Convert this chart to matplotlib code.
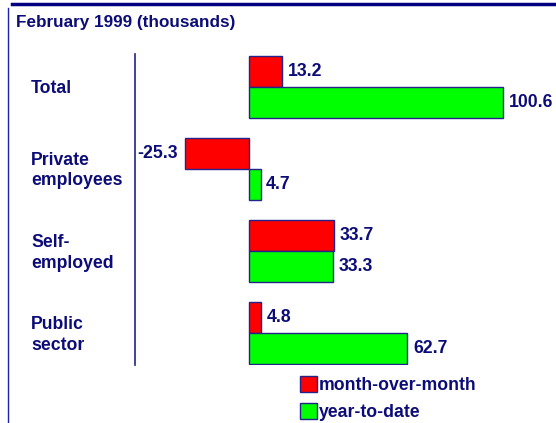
import matplotlib
matplotlib.use('Agg')
import matplotlib.pyplot as plt
from matplotlib.lines import Line2D
from matplotlib.patches import Patch
import numpy as np

categories = ['Total', 'Private\nemployees', 'Self-\nemployed', 'Public\nsector']
month_over_month = [13.2, -25.3, 33.7, 4.8]
year_to_date = [100.6, 4.7, 33.3, 62.7]
series_names = ['month-over-month', 'year-to-date']

navy = '#0c0c78'
edge = '#23238c'
red = '#ff0000'
green = '#00ff00'

plt.rcParams['font.family'] = ['Liberation Sans', 'DejaVu Sans']
plt.rcParams['font.weight'] = 'bold'

W, H = 556, 423
fig = plt.figure(figsize=(W / 100, H / 100), dpi=100)

# axes placed in pixel terms
ax = fig.add_axes([135 / W, 1 - 365 / H, (W - 135) / W, 311 / H])

y = np.arange(len(categories))
h = 0.38
ax.barh(y - h / 2, month_over_month, height=h, color=red, edgecolor=edge, linewidth=1)
ax.barh(y + h / 2, year_to_date, height=h, color=green, edgecolor=edge, linewidth=1)

ax.set_xlim(-45, 121.5)
ax.set_ylim(3 + 0.39, -0.40)

for i, v in enumerate(month_over_month):
    if v >= 0:
        ax.annotate(f'{v}', (v, i - h / 2), xytext=(4, 0), textcoords='offset points',
                    va='center', ha='left', fontsize=12.7, color=navy, fontweight='bold')
    else:
        ax.annotate(f'{v}', (v, i - h / 2), xytext=(-5, 0), textcoords='offset points',
                    va='center', ha='right', fontsize=12.7, color=navy, fontweight='bold')
for i, v in enumerate(year_to_date):
    ax.annotate(f'{v}', (v, i + h / 2), xytext=(4, 0), textcoords='offset points',
                va='center', ha='left', fontsize=12.7, color=navy, fontweight='bold')

# category labels, left aligned in figure space
trans = matplotlib.transforms.blended_transform_factory(fig.transFigure, ax.transData)
for i, c in enumerate(categories):
    ax.text(31 / W, i + 0.02, c, transform=trans, ha='left', va='center', fontsize=12.7,
            color=navy, fontweight='bold', linespacing=1.3, clip_on=False)

for s in ['top', 'right', 'bottom']:
    ax.spines[s].set_visible(False)
ax.spines['left'].set_color(edge)
ax.spines['left'].set_linewidth(1.2)
ax.set_xticks([])
ax.set_yticks([])
ax.patch.set_alpha(0)

fig.text(16 / W, 1 - 22 / H, 'February 1999 (thousands)', ha='left', va='center',
         fontsize=12.3, color=navy, fontweight='bold')

# frame lines
fig.add_artist(Line2D([12 / W, 1], [1 - 4 / H, 1 - 4 / H], color='#000080', linewidth=2.5))
fig.add_artist(Line2D([8 / W, 8 / W], [0, 1 - 8 / H], color='#2020b0', linewidth=1))

handles = [Patch(facecolor=red, edgecolor=edge, linewidth=1),
           Patch(facecolor=green, edgecolor=edge, linewidth=1)]
leg = fig.legend(handles, series_names, loc='upper left',
                 bbox_to_anchor=(300 / W, 1 - 376 / H), frameon=False, borderpad=0,
                 borderaxespad=0, handlelength=0.95, handleheight=1.05, handletextpad=0.1,
                 labelspacing=0.5, fontsize=12.7)
for t in leg.get_texts():
    t.set_color(navy)
    t.set_fontweight('bold')

fig.savefig('out.png', dpi=100)
